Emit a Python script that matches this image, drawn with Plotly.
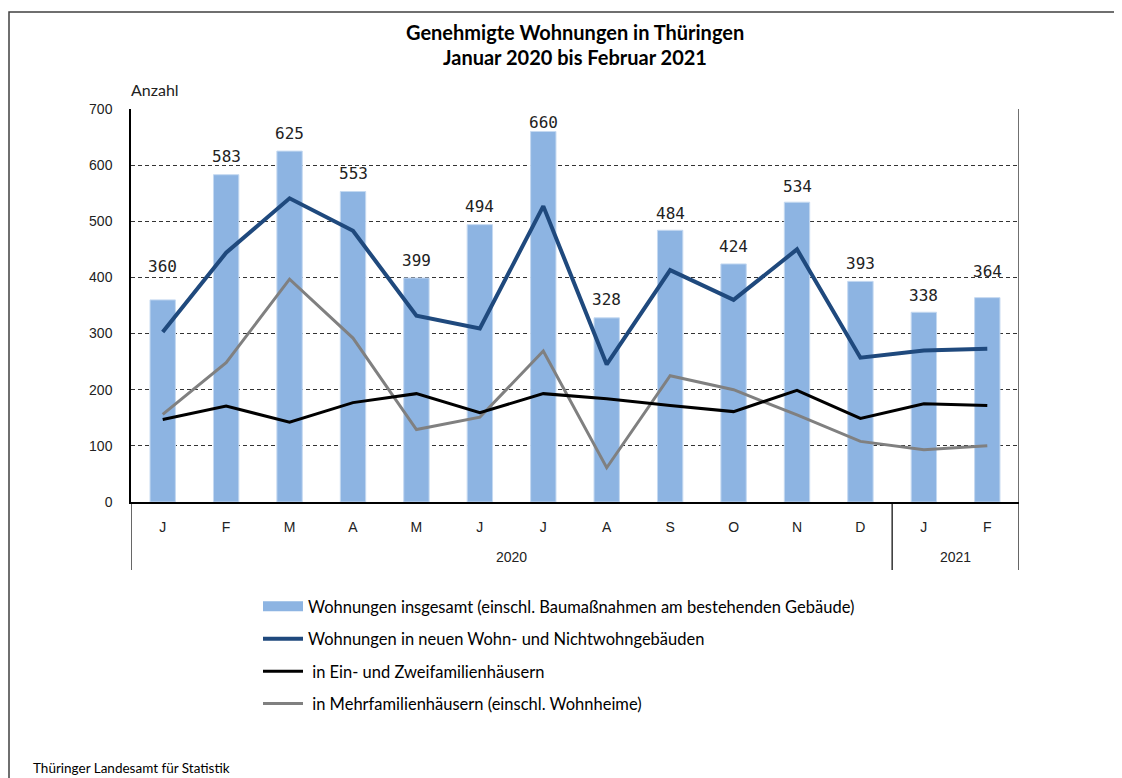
import plotly.graph_objects as go

# ---------------- data ----------------
months = ["J", "F", "M", "A", "M", "J", "J", "A", "S", "O", "N", "D", "J", "F"]
years = ["2020", "2021"]
year_counts = [12, 2]
insgesamt = [360, 583, 625, 553, 399, 494, 660, 328, 484, 424, 534, 393, 338, 364]
neue_gebaeude = [303, 444, 541, 483, 332, 309, 527, 245, 413, 360, 450, 257, 270, 273]
ein_zwei = [147, 171, 142, 177, 193, 159, 193, 184, 172, 161, 199, 149, 175, 172]
mehrfam = [156, 248, 397, 292, 129, 151, 269, 61, 225, 200, 155, 108, 93, 100]
y_ticks = [0, 100, 200, 300, 400, 500, 600, 700]

names = [
    "Wohnungen insgesamt (einschl. Baumaßnahmen am bestehenden Gebäude)",
    "Wohnungen in neuen Wohn- und Nichtwohngebäuden",
    "\u00a0in Ein- und Zweifamilienhäusern",
    "\u00a0in Mehrfamilienhäusern (einschl. Wohnheime)",
]

# label offsets above bars (px), style only
label_shift = [33, 18, 18, 18, 17, 18, 9, 18, 17, 17, 16, 18, 17, 26]

# ---------------- layout geometry (reference pixel coords) ----------------
OFF = 8  # page body margin
W, H = 1122, 778
L, R, T, B = 131, 1019, 109, 502
PW, PH = R - L, B - T
FW, FH = W - OFF, H - OFF


def px(x):
    return (x - L) / PW


def py(y):
    return (B - y) / PH


xs = list(range(len(months)))
FONT = "Liberation Sans, Arial, sans-serif"
LFONT = "Lato, Open Sans, sans-serif"
BAR_COLOR = "#8DB4E2"

fig = go.Figure()
fig.add_trace(go.Bar(
    x=xs, y=insgesamt, name=names[0], width=0.4, showlegend=False,
    marker=dict(color=BAR_COLOR, line=dict(color="#C5D9F1", width=1)),
))
# legend entry for the bars (wide rectangle like the reference)
fig.add_trace(go.Scatter(
    x=[None], y=[None], name=names[0], mode="lines",
    line=dict(color=BAR_COLOR, width=11), legendgroup="a", legendrank=1,
))
fig.add_trace(go.Scatter(
    x=xs, y=mehrfam, name=names[3], mode="lines",
    line=dict(color="#808080", width=3), legendgroup="d", legendrank=4,
))
fig.add_trace(go.Scatter(
    x=xs, y=ein_zwei, name=names[2], mode="lines",
    line=dict(color="#000000", width=3), legendgroup="c", legendrank=3,
))
fig.add_trace(go.Scatter(
    x=xs, y=neue_gebaeude, name=names[1], mode="lines",
    line=dict(color="#1F497D", width=4), legendgroup="b", legendrank=2,
))

annotations = []
for i, v in enumerate(insgesamt):
    annotations.append(dict(
        x=xs[i], y=v, xref="x", yref="y", text=str(v), showarrow=False,
        yanchor="middle", yshift=label_shift[i],
        font=dict(family="DejaVu Sans Mono, monospace", size=16, color="#222"),
    ))

# year labels
start = 0
for yr, cnt in zip(years, year_counts):
    annotations.append(dict(
        x=start + (cnt - 1) / 2, y=py(557), xref="x", yref="paper", text=yr,
        showarrow=False, yanchor="middle",
        font=dict(family=FONT, size=14, color="#222"),
    ))
    start += cnt

annotations += [
    dict(x=0.5, y=py(32), xref="paper", yref="paper", showarrow=False,
         text="<b>Genehmigte Wohnungen in Thüringen</b>", yanchor="middle",
         font=dict(family=LFONT, size=20, color="#000")),
    dict(x=0.5, y=py(57), xref="paper", yref="paper", showarrow=False,
         text="<b>Januar 2020 bis Februar 2021</b>", yanchor="middle",
         font=dict(family=LFONT, size=20, color="#000")),
    dict(x=0, y=py(89), xref="paper", yref="paper", showarrow=False,
         text="Anzahl", xanchor="left", yanchor="middle", xshift=-2,
         font=dict(family=LFONT, size=16, color="#222")),
    dict(x=px(31), y=py(768), xref="paper", yref="paper", showarrow=False,
         text="Thüringer Landesamt für Statistik", xanchor="left", yanchor="middle",
         font=dict(family=LFONT, size=13.5, color="#000")),
]

shapes = [
    # outer frame
    dict(type="rect", xref="paper", yref="paper", x0=px(9), x1=px(1119),
         y0=py(800), y1=py(12), line=dict(color="#404040", width=1.5),
         fillcolor="rgba(0,0,0,0)", layer="below"),
    # right border of plot area
    dict(type="line", xref="x", yref="y", x0=len(months) - 0.5, x1=len(months) - 0.5,
         y0=0, y1=y_ticks[-1], line=dict(color="#404040", width=1.5)),
]
# hierarchical separators below axis
bounds = [-0.5]
acc = -0.5
for cnt in year_counts:
    acc += cnt
    bounds.append(acc)
for bx in bounds:
    shapes.append(dict(type="line", xref="x", yref="paper", x0=bx, x1=bx,
                       y0=py(570), y1=0, line=dict(color="#000", width=1.2)))

fig.update_layout(
    width=FW, height=FH,
    margin=dict(l=L - OFF, r=FW - (R - OFF), t=T - OFF, b=FH - (B - OFF), pad=0),
    paper_bgcolor="white", plot_bgcolor="white",
    showlegend=True,
    legend=dict(x=px(258), y=py(589), xanchor="left", yanchor="top",
                orientation="v", traceorder="grouped", tracegroupgap=8,
                font=dict(family=LFONT, size=16.5, color="#000"),
                itemwidth=40, bgcolor="rgba(0,0,0,0)"),
    annotations=annotations, shapes=shapes,
    bargap=0.6,
)
fig.update_xaxes(
    range=[-0.5, len(months) - 0.5], tickvals=xs, ticktext=months,
    showgrid=False, showline=True, linecolor="#000", linewidth=1.5,
    ticks="", ticklabelstandoff=11, zeroline=False,
    tickfont=dict(family=FONT, size=14, color="#222"),
)
fig.update_yaxes(
    range=[0, y_ticks[-1]], tickvals=y_ticks, showgrid=True,
    gridcolor="#333", griddash="4px,3px", gridwidth=1,
    showline=True, linecolor="#000", linewidth=1.5, ticks="",
    ticklabelstandoff=14, zeroline=False,
    tickfont=dict(family=FONT, size=14, color="#222"),
)

fig.write_html("out.html")
